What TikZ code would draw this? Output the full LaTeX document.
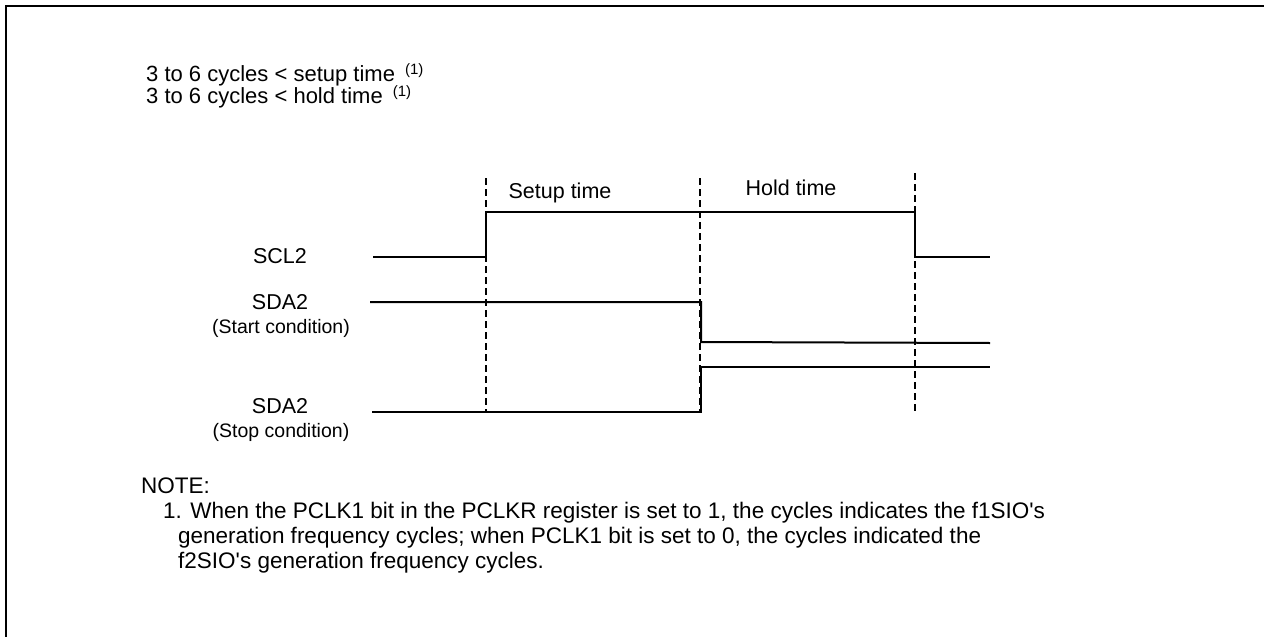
\documentclass[tikz,border=0pt]{standalone}
\usepackage{fontspec}
\setmainfont{Liberation Sans}[Ligatures=TeXOff]
\begin{document}
\begin{tikzpicture}[x=1pt,y=-1pt,
  sig/.style={line width=2pt, line join=miter, line cap=butt},
  guide/.style={line width=1.2pt, dash pattern=on 7pt off 4pt},
  frameline/.style={line width=2.5pt},
  txt/.style={inner sep=0pt, font=\fontsize{21.5}{26}\selectfont},
  head/.style={inner sep=0pt, font=\fontsize{22}{26}\selectfont, anchor=base west},
  small/.style={inner sep=0pt, font=\fontsize{19.5}{24}\selectfont},
  note/.style={inner sep=0pt, font=\fontsize{22.5}{27}\selectfont, anchor=base west}]
\useasboundingbox (0,0) rectangle (1264,637);
% frame
\coordinate (fbl) at (6,637);
\coordinate (ftl) at (6,6);
\coordinate (ftr) at (1264,6);
\draw[frameline] (fbl) -- (ftl) -- (ftr);
% header
\node[head] (h1) at (146,81) {3 to 6 cycles < setup time\hspace{10pt}\raisebox{7pt}{\fontsize{15}{18}\selectfont (1)}};
\node[head] (h2) at (146,103) {3 to 6 cycles < hold time\hspace{10pt}\raisebox{7pt}{\fontsize{15}{18}\selectfont (1)}};
% guides
\coordinate (ga1) at (486,178); \coordinate (ga2) at (486,412);
\coordinate (gb1) at (700,178); \coordinate (gb2) at (700,412);
\coordinate (gc1) at (915,173); \coordinate (gc2) at (915,412);
\draw[guide] (ga1) -- (ga2);
\draw[guide] (gb1) -- (gb2);
\draw[guide] (gc1) -- (gc2);
% phase labels
\node[txt, anchor=base] (setup) at (560,198) {Setup time};
\node[txt, anchor=base] (hold) at (791,195) {Hold time};
% SCL2
\node[txt, anchor=base] (scl) at (280,263) {SCL2};
\coordinate (s0) at (373,257); \coordinate (s1) at (486,257);
\coordinate (s2) at (486,212); \coordinate (s3) at (915,212);
\coordinate (s4) at (915,257); \coordinate (s5) at (990,257);
\draw[sig] (s0) -- (s1) -- (s2) -- (s3) -- (s4) -- (s5);
% SDA2 start
\node[txt, anchor=base] (sdaa) at (280,309) {SDA2};
\node[small, anchor=base] (sdaac) at (281,333) {(Start condition)};
\coordinate (a0) at (370,302); \coordinate (a1) at (701,302);
\coordinate (a2) at (701,342); \coordinate (a3) at (990,343);
\draw[sig] (a0) -- (a1) -- (a2) -- (a3);
% SDA2 stop
\node[txt, anchor=base] (sdab) at (280,413) {SDA2};
\node[small, anchor=base] (sdabc) at (281,437) {(Stop condition)};
\coordinate (b0) at (372,412); \coordinate (b1) at (701,412);
\coordinate (b2) at (701,367); \coordinate (b3) at (990,367);
\draw[sig] (b0) -- (b1) -- (b2) -- (b3);
% note
\node[note] (n0) at (141,493) {NOTE:};
\node[note] (n1) at (163,518) {1. When the PCLK1 bit in the PCLKR register is set to 1, the cycles indicates the f1SIO's};
\node[note] (n2) at (178,543) {generation frequency cycles; when PCLK1 bit is set to 0, the cycles indicated the};
\node[note] (n3) at (178,568) {f2SIO's generation frequency cycles.};
\end{tikzpicture}
\end{document}
